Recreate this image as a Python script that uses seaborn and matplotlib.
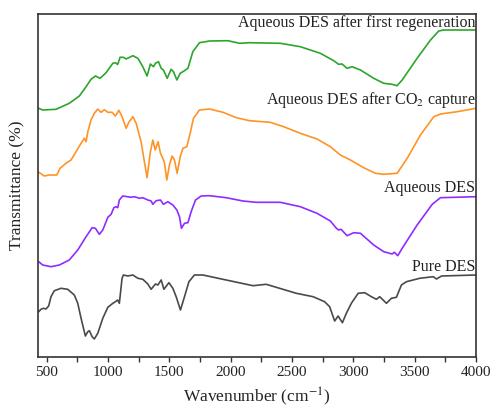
import numpy as np
import pandas as pd
import matplotlib
matplotlib.use("Agg")
import matplotlib.pyplot as plt
from matplotlib.ticker import MultipleLocator
import seaborn as sns

# ---- data (wavenumber cm^-1, offset transmittance a.u.) ----
pure_wn = [436, 454, 473, 495, 517, 536, 563, 618, 672, 726, 754, 781, 816, 836, 849, 871, 889, 917,
           958, 999, 1040, 1061, 1080, 1093, 1115, 1126, 1162, 1203, 1244, 1284, 1325, 1352, 1387,
           1407, 1434, 1456, 1497, 1529, 1556, 1591, 1624, 1660, 1705, 1774, 1937, 2182, 2290, 2399,
           2535, 2672, 2766, 2807, 2848, 2876, 2911, 2943, 2984, 3039, 3093, 3147, 3188, 3215, 3270,
           3310, 3351, 3392, 3433, 3541, 3651, 3678, 3719, 4000]
pure_t = [45.3, 47.7, 48.7, 48, 51, 60.3, 66.3, 68.7, 67.7, 62, 53.7, 38.7, 21, 25.3, 26.3, 20.3, 18,
          23.7, 38.7, 49.7, 53.7, 55.3, 57, 53.7, 78.7, 82, 81, 82, 78.7, 77.7, 73, 67.7, 73, 72, 77,
          67.7, 74.3, 68.7, 60.3, 47, 60.3, 75.3, 82, 82, 77.7, 71.3, 72.7, 68.7, 63.7, 60.3, 55.3,
          50.3, 36, 41, 34.3, 43.7, 53.7, 63.7, 64.3, 60.3, 57.7, 60.3, 53.7, 58.7, 59.7, 72, 75.3,
          78.7, 80.3, 78, 81, 82]

aq_wn = [436, 468, 536, 604, 685, 754, 822, 871, 898, 930, 958, 999, 1026, 1048, 1066, 1080, 1093,
         1121, 1189, 1216, 1257, 1284, 1325, 1352, 1366, 1393, 1428, 1452, 1488, 1529, 1562, 1583,
         1599, 1624, 1652, 1678, 1714, 1760, 1828, 1964, 2100, 2209, 2405, 2568, 2704, 2813, 2862,
         2880, 2900, 2949, 3003, 3058, 3166, 3248, 3316, 3335, 3362, 3398, 3520, 3643, 3710, 4000]
aq_t = [95.3, 92, 90.3, 92, 97, 107, 120.3, 129.3, 128.7, 122.7, 127, 139.7, 142.7, 149.3, 150.3,
        149.3, 157, 161, 159.7, 160.3, 158.7, 159.3, 157, 156, 152.7, 156.3, 157, 152.7, 155.3, 152,
        147, 140.3, 128.7, 133.7, 134.3, 145.3, 157, 161, 161.3, 159.3, 156, 154.7, 154.7, 150.3,
        143.7, 136, 128.7, 127, 127.7, 121.3, 124.3, 123.7, 112, 105.3, 103, 104.7, 101.3, 108.7,
        132, 152.7, 159.3, 160.3]

co2_wn = [436, 454, 481, 522, 583, 610, 658, 699, 740, 781, 808, 822, 836, 862, 889, 917, 944, 971,
          999, 1034, 1061, 1089, 1115, 1148, 1170, 1203, 1230, 1270, 1297, 1319, 1346, 1366, 1385,
          1409, 1428, 1448, 1461, 1480, 1501, 1523, 1542, 1564, 1589, 1611, 1643, 1670, 1697, 1746,
          1828, 1937, 2046, 2154, 2323, 2432, 2568, 2704, 2813, 2894, 2976, 3084, 3180, 3248, 3357,
          3439, 3547, 3656, 3710, 3846, 4000]
co2_t = [184.7, 183.3, 181, 182, 182, 188.7, 193.7, 197, 205.3, 213.7, 218.7, 215.3, 225.3, 237,
         243.7, 248, 244.7, 247.3, 244.7, 244.7, 241, 246.7, 240.3, 228.7, 234.7, 240.3, 233.7,
         215.3, 195.3, 179.3, 205.3, 217, 207, 215.3, 203.7, 198.7, 193.7, 177, 192, 201, 197,
         183.7, 200.3, 208.7, 210.3, 223.7, 238.7, 247, 248, 244.7, 239.3, 236.3, 234.7, 230.3,
         223.7, 218, 210.3, 202, 197, 189.3, 183.7, 182.7, 183.7, 198.7, 222, 240.3, 243, 245.3,
         248.7]

regen_wn = [436, 468, 577, 685, 767, 822, 862, 898, 936, 985, 1040, 1061, 1079, 1099, 1126, 1148,
            1203, 1244, 1284, 1319, 1346, 1371, 1387, 1412, 1434, 1452, 1483, 1515, 1534, 1562,
            1589, 1624, 1652, 1692, 1746, 1828, 1978, 2073, 2154, 2405, 2568, 2731, 2840, 2880,
            2908, 2949, 2990, 3058, 3166, 3248, 3316, 3357, 3398, 3520, 3629, 3696, 3737, 4000]
regen_t = [248.7, 247, 247.7, 253.7, 261, 270.3, 277.7, 281, 278.7, 284.3, 293.7, 294.3, 292.5,
           299.7, 299.7, 298, 301.3, 298.7, 290.3, 281, 293, 290.3, 293.7, 295.3, 288.7, 287, 278.7,
           287.7, 285.3, 277, 283.7, 286.3, 288.7, 305.3, 314.3, 316, 316.3, 313.7, 314.3, 313.7,
           310.3, 303.7, 296.3, 292.7, 293, 288.7, 290.3, 287, 278.7, 273.7, 272.7, 271.3, 277,
           298.7, 317, 326, 327, 327]

series_names = ["Pure DES", "Aqueous DES", "Aqueous DES after CO$_2$ capture",
                "Aqueous DES after first regeneration"]
series_colors = ["#4a4a4a", "#8f2cff", "#ff9326", "#2ca52c"]
x_ticks = [500, 1000, 1500, 2000, 2500, 3000, 3500, 4000]

# ---- build table ----
frames = []
for name, wn, t in zip(series_names,
                       [pure_wn, aq_wn, co2_wn, regen_wn],
                       [pure_t, aq_t, co2_t, regen_t]):
    frames.append(pd.DataFrame({"wn": wn, "t": t, "series": name}))
df = pd.concat(frames, ignore_index=True)

sns.set_theme(style="ticks")
plt.rcParams["font.family"] = ["Liberation Serif", "DejaVu Serif"]
plt.rcParams["mathtext.fontset"] = "stix"

fig = plt.figure(figsize=(4.91, 4.13), dpi=100)
ax = fig.add_axes([0.0774, 0.1356, 0.8921, 0.8305])

sns.lineplot(data=df, x="wn", y="t", hue="series", hue_order=series_names,
             palette=series_colors, estimator=None, sort=False, linewidth=1.2,
             legend=False, ax=ax)

ax.set_xlim(430, 4000)
ax.set_ylim(0, 343)
ax.set_yticks([])
ax.set_xticks(x_ticks)
ax.set_xticklabels([str(v) for v in x_ticks], fontsize=11, color="#222222")
ax.xaxis.set_minor_locator(MultipleLocator(250))
ax.tick_params(axis="x", which="both", direction="out", length=3.5, width=1.0,
               color="#333333", pad=3)
for s in ax.spines.values():
    s.set_visible(True)
    s.set_color("#333333")
    s.set_linewidth(1.2)

ax.set_xlabel("Wavenumber (cm$^{-1}$)", fontsize=12.5, color="#222222", labelpad=5)
ax.set_ylabel("Transmittance (%)", fontsize=12.5, color="#222222", labelpad=9)

label_y = [90, 169, 257, 334.5]
for name, ly in zip(series_names, label_y):
    ax.text(3995, ly, name, ha="right", va="center", fontsize=11.5, color="#222222")

fig.savefig("out.png", dpi=100)
